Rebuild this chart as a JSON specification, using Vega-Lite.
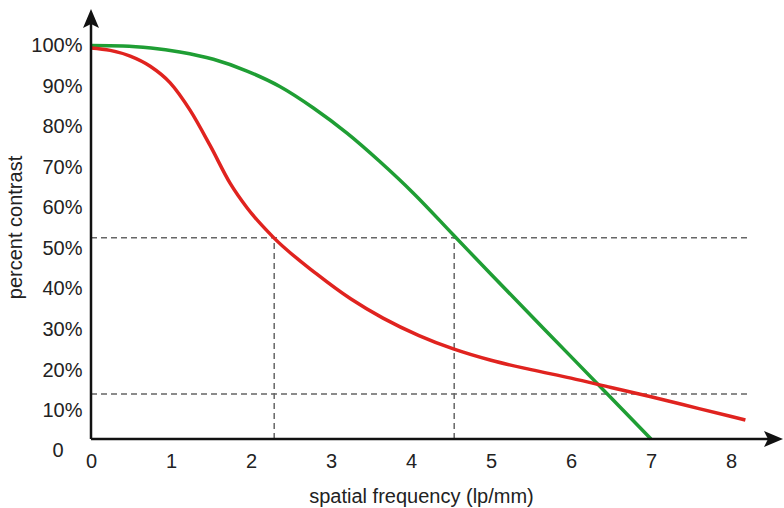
{
  "$schema": "https://vega.github.io/schema/vega-lite/v6.json",
  "width": 692,
  "height": 430,
  "autosize": "none",
  "padding": {"left": 91, "top": 9, "right": 1, "bottom": 69},
  "config": {"view": {"stroke": null}, "font": "Liberation Sans"},
  "datasets": {
    "curves": [
      {"series": "green", "x": 0, "y": 100},
      {"series": "green", "x": 0.4, "y": 99.9},
      {"series": "green", "x": 0.75, "y": 99.4},
      {"series": "green", "x": 1.11, "y": 98.4},
      {"series": "green", "x": 1.53, "y": 96.6},
      {"series": "green", "x": 1.95, "y": 93.7},
      {"series": "green", "x": 2.36, "y": 89.9},
      {"series": "green", "x": 2.78, "y": 84.6},
      {"series": "green", "x": 3.2, "y": 78.4},
      {"series": "green", "x": 3.61, "y": 71.4},
      {"series": "green", "x": 4.03, "y": 63.6},
      {"series": "green", "x": 4.53, "y": 53.3},
      {"series": "green", "x": 5.0, "y": 43.6},
      {"series": "green", "x": 6.0, "y": 23.3},
      {"series": "green", "x": 7.0, "y": 3.0},
      {"series": "red", "x": 0, "y": 99.4},
      {"series": "red", "x": 0.24, "y": 98.8},
      {"series": "red", "x": 0.49, "y": 97.4},
      {"series": "red", "x": 0.74, "y": 94.9},
      {"series": "red", "x": 0.99, "y": 90.8},
      {"series": "red", "x": 1.24, "y": 84.0},
      {"series": "red", "x": 1.49, "y": 75.3},
      {"series": "red", "x": 1.74, "y": 66.0},
      {"series": "red", "x": 1.95, "y": 60.0},
      {"series": "red", "x": 2.28, "y": 52.7},
      {"series": "red", "x": 2.82, "y": 43.7},
      {"series": "red", "x": 3.25, "y": 37.5},
      {"series": "red", "x": 3.65, "y": 32.8},
      {"series": "red", "x": 4.1, "y": 28.5},
      {"series": "red", "x": 4.53, "y": 25.2},
      {"series": "red", "x": 5.0, "y": 22.4},
      {"series": "red", "x": 5.5, "y": 20.1},
      {"series": "red", "x": 6.0, "y": 18.0},
      {"series": "red", "x": 6.5, "y": 15.7},
      {"series": "red", "x": 7.0, "y": 13.4},
      {"series": "red", "x": 7.6, "y": 10.5},
      {"series": "red", "x": 8.18, "y": 7.7}
    ],
    "hdash": [
      {"y": 52.6, "x": 0, "x2": 8.21},
      {"y": 14.1, "x": 0, "x2": 8.21}
    ],
    "vdash": [
      {"x": 2.29, "y": 3, "y2": 52.6},
      {"x": 4.54, "y": 3, "y2": 52.6}
    ],
    "xaxisline": [{"x": 0, "x2": 8.5, "y": 3}],
    "yaxisline": [{"x": 0, "y": 3, "y2": 106.5}],
    "xarrow": [{"x": 8.525, "y": 3}],
    "yarrow": [{"x": 0, "y": 106.54}],
    "zero": [{"x": 0, "y": 0, "text": "0"}]
  },
  "encoding": {
    "x": {
      "field": "x", "type": "quantitative",
      "scale": {"domain": [0, 8.65], "nice": false, "zero": false},
      "axis": {
        "values": [0, 1, 2, 3, 4, 5, 6, 7, 8], "format": "d",
        "domain": false, "ticks": false, "grid": false, "labelFlush": false,
        "labelFontSize": 20, "labelPadding": 12, "labelColor": "#222222",
        "title": "spatial frequency (lp/mm)", "titleFontSize": 20, "titleFontWeight": "normal",
        "titleColor": "#222222", "titleX": 330, "titleY": 63, "titleBaseline": "alphabetic", "titleAlign": "center"
      }
    },
    "y": {
      "field": "y", "type": "quantitative",
      "scale": {"domain": [3, 109], "nice": false, "zero": false},
      "axis": {
        "values": [10, 20, 30, 40, 50, 60, 70, 80, 90, 100],
        "labelExpr": "datum.value + '%'",
        "domain": false, "ticks": false, "grid": false, "labelFlush": false,
        "labelFontSize": 20, "labelPadding": 9, "labelColor": "#222222",
        "title": "percent contrast", "titleFontSize": 20, "titleFontWeight": "normal",
        "titleColor": "#222222", "titleX": -76, "titleY": 218, "titleAlign": "center", "titleBaseline": "middle"
      }
    }
  },
  "layer": [
    {
      "data": {"name": "hdash"},
      "mark": {"type": "rule", "strokeDash": [6, 4], "color": "#666666", "strokeWidth": 1.5},
      "encoding": {"x2": {"field": "x2"}}
    },
    {
      "data": {"name": "vdash"},
      "mark": {"type": "rule", "strokeDash": [6, 4], "color": "#666666", "strokeWidth": 1.5},
      "encoding": {"y2": {"field": "y2"}}
    },
    {
      "data": {"name": "curves"},
      "mark": {"type": "line", "strokeWidth": 3.5, "interpolate": "monotone"},
      "encoding": {
        "color": {"field": "series", "type": "nominal", "scale": {"domain": ["green", "red"], "range": ["#1f9e34", "#e0231f"]}, "legend": null}
      }
    },
    {
      "data": {"name": "xaxisline"},
      "mark": {"type": "rule", "color": "#111111", "strokeWidth": 2.5},
      "encoding": {"x2": {"field": "x2"}}
    },
    {
      "data": {"name": "yaxisline"},
      "mark": {"type": "rule", "color": "#111111", "strokeWidth": 2.5},
      "encoding": {"y2": {"field": "y2"}}
    },
    {
      "data": {"name": "xarrow"},
      "mark": {"type": "point", "filled": true, "color": "#111111", "opacity": 1, "size": 400, "shape": "M1,0L-0.9,0.8L-0.5,0L-0.9,-0.8Z"},
      "encoding": {}
    },
    {
      "data": {"name": "yarrow"},
      "mark": {"type": "point", "filled": true, "color": "#111111", "opacity": 1, "size": 400, "shape": "M0,-1L0.8,0.9L0,0.5L-0.8,0.9Z"},
      "encoding": {}
    },
    {
      "data": {"name": "zero"},
      "mark": {"type": "text", "fontSize": 20, "color": "#222222", "align": "center", "baseline": "middle", "dx": -33},
      "encoding": {"text": {"field": "text"}}
    }
  ]
}
